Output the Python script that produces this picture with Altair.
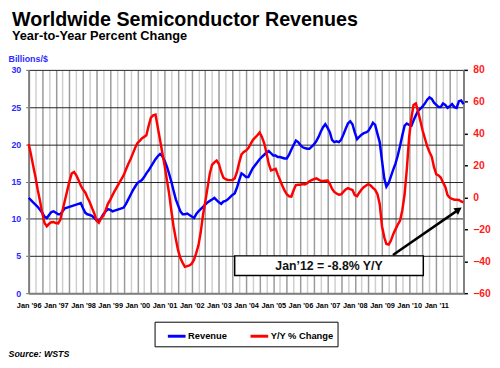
import altair as alt
import pandas as pd

# Monthly values, Jan 1996 .. Jan 2012
revenue = [
    12.8, 12.5, 12.2, 11.9, 11.6, 11.2, 10.8, 10.3, 10.1, 10.5, 10.9, 11.0,
    10.8, 10.6, 10.6, 11.0, 11.4, 11.5, 11.6, 11.7, 11.8, 11.9, 12.0, 12.1,
    11.4, 10.8, 10.6, 10.5, 10.4, 10.1, 9.8, 9.7, 10.1, 10.6, 11.0, 11.3,
    11.2, 11.0, 11.1, 11.2, 11.3, 11.4, 11.5, 12.0, 12.6, 13.2, 13.8, 14.3,
    14.8, 15.0, 15.2, 15.6, 16.1, 16.5, 17.0, 17.5, 18.0, 18.4, 18.7, 18.4,
    17.8, 17.0, 16.1, 15.0, 13.8, 12.6, 11.8, 11.0, 10.6, 10.6, 10.7, 10.5,
    10.3, 10.1, 10.6, 11.0, 11.3, 11.6, 11.9, 12.2, 12.4, 12.6, 12.8, 12.5,
    12.2, 12.0, 12.3, 12.4, 12.6, 12.9, 13.2, 13.4, 14.2, 15.2, 16.1, 15.9,
    15.6, 15.6, 16.2, 16.8, 17.2, 17.6, 18.0, 18.3, 18.6, 18.9, 19.1, 18.8,
    18.5, 18.5, 18.3, 18.3, 18.2, 18.1, 18.1, 18.6, 19.3, 19.9, 20.5, 20.3,
    19.9, 19.6, 19.5, 19.4, 19.4, 19.7, 20.0, 20.4, 21.0, 21.7, 22.3, 22.7,
    22.2, 21.6, 20.6, 20.3, 20.4, 20.3, 20.6, 21.3, 22.1, 22.8, 23.1, 22.7,
    21.6, 20.7, 21.0, 21.3, 21.5, 21.6, 21.8, 22.3, 22.9, 22.6, 21.4, 20.3,
    17.8, 15.4, 14.3, 14.8, 15.7, 16.6, 17.4, 18.5, 19.8, 21.2, 22.5, 22.8,
    22.6, 22.5, 23.2, 23.9, 24.5, 24.8, 25.1, 25.5, 26.0, 26.3, 26.1, 25.6,
    25.3, 25.0, 25.0, 25.5, 25.3, 24.9, 25.1, 25.4, 25.0, 24.9, 25.8, 25.9,
    25.4,
]
yoy = [
    33.5, 27, 20, 13, 5, -2, -9.6, -16, -18, -16.5, -15.5, -15.4,
    -16.0, -16.2, -14, -8, -2, 4, 10, 15, 16, 14, 11, 7.5,
    5, 3, 0, -3, -6.5, -10, -14.5, -15.8, -13, -11.5, -8, -4,
    -1.5, 1.5, 4, 6.5, 9, 11.5, 14, 17.5, 21, 24, 27.5, 31,
    34, 35.5, 37, 38, 39, 45, 50, 51.5, 52, 44, 36, 28,
    20, 11, 3, -8, -18, -26, -33, -38, -41, -43.5, -43, -42.6,
    -41.5, -39, -35, -30, -22, -11, -3, 6, 15, 20.5, 22, 23.2,
    21, 16, 12.5, 11.5, 11, 10.9, 11, 12, 16, 22, 27, 28.5,
    29.4, 31, 33.5, 36, 37.6, 39, 40.7, 38, 34, 28, 21, 17,
    17.5, 18, 14.5, 11, 7.5, 4.5, 2, 0.8, 0.6, 4.5, 7.8, 8,
    8, 8.4, 8.2, 9, 10.2, 10.9, 11.5, 12, 11.2, 10.5, 10.4, 10.5,
    10.6, 8.5, 5.5, 3.5, 2.5, 1.8, 2, 3.5, 5, 5.8, 5.2, 4.7,
    1.5, 0.8, 3, 5, 6.5, 7.5, 8.3, 7.5, 6, 4.8, 2, -4,
    -18, -25, -29.2, -29.5, -27, -23, -20, -17, -14.5, -8, 2, 18,
    38, 50, 58, 59, 54, 48, 42, 37, 32, 28.5, 25.5, 19,
    14.5, 13.8, 12.5, 9.5, 6.8, 1.5, -0.2, -0.8, -1.4, -1.4, -1.6, -2.5,
    -3,
]
series_names = ["Revenue", "Y/Y % Change"]
series_colors = ["#0000ff", "#ff0000"]

# annotation (in data coordinates of the right axis)
note_label = ["Jan\u201912 = -8.8% Y/Y"]
note_box_start = ["2003-08-01"]
note_box_end = ["2010-07-10"]
note_box_top = [-36.6]
note_box_bottom = [-48.9]
note_center = ["2007-01-20"]
note_center_val = [-43.0]
arrow_start = ["2009-05-28"]
arrow_start_val = [-36.0]
arrow_end = ["2011-10-28"]
arrow_end_val = [-7.6]

dates = pd.date_range("1996-01-01", periods=len(revenue), freq="MS").strftime("%Y-%m-%d").tolist()
df = pd.DataFrame({"date": dates, "Revenue": revenue, "YoY": yoy})
box_df = pd.DataFrame({"x0": note_box_start, "x1": note_box_end, "y0": note_box_top, "y1": note_box_bottom})
text_df = pd.DataFrame({"xc": note_center, "yc": note_center_val, "label": note_label})
arrow_df = pd.DataFrame({"xa": arrow_start, "ya": arrow_start_val, "xb": arrow_end, "yb": arrow_end_val})

FONT = "Liberation Sans"
BLUE_TXT = "#2b2bff"
RED_TXT = "#ff1a1a"

quarter_ticks = [alt.DateTime(year=y, month=m, date=1, utc=True)
                 for y in range(1996, 2012) for m in (1, 4, 7, 10)]
quarter_ticks.append(alt.DateTime(year=2012, month=1, date=1, utc=True))

x_scale = alt.Scale(type="utc", domain=[alt.DateTime(year=1996, month=1, date=1, utc=True),
                                         alt.DateTime(year=2012, month=1, date=1, utc=True)])
x_axis = alt.Axis(
    values=quarter_ticks,
    labelExpr=('utcmonth(datum.value) == 0 && utcyear(datum.value) < 2012 ? '
               'utcFormat(datum.value, "%b \'%y") : ""'),
    labelOverlap=False, labelFlush=False,
    labelFontSize=7.5, labelFontWeight="bold", labelColor="#000", labelPadding=9,
    ticks=False, grid=True,
    gridColor={"condition": {"test": "utcmonth(datum.value) % 6 == 0", "value": "#9a9a9a"}, "value": "#cfcfcf"},
    gridWidth=1.5, domainColor="#808080", domainWidth=2,
    title="Source: WSTS", titleX=-21, titleY=64.5, titleAlign="left", titleBaseline="alphabetic",
    titleFontSize=9, titleFontStyle="italic", titleFontWeight="bold", titleColor="#000",
)

rev_scale = alt.Scale(domain=[0, 30], nice=False, zero=False)
rev_axis = alt.Axis(
    orient="left", values=[0, 5, 10, 15, 20, 25, 30],
    title="Billions/$", titleAngle=0, titleX=-21, titleY=-9, titleAlign="left",
    titleBaseline="alphabetic", titleColor=BLUE_TXT, titleFontSize=9, titleFontWeight="bold",
    labelColor=BLUE_TXT, labelFontWeight="bold", labelFontSize=9, labelPadding=5,
    ticks=True, tickSize=3, tickColor="#666",
    grid=True, gridColor="#222", gridWidth=1,
    domainColor="#808080", domainWidth=2,
)

yoy_scale = alt.Scale(domain=[-60, 80], nice=False, zero=False)
yoy_axis = alt.Axis(
    orient="right", values=list(range(-60, 81, 20)), grid=False, title=None,
    labelColor=RED_TXT, labelFontWeight="bold", labelFontSize=10.5, labelPadding=5.5,
    ticks=True, tickSize=4, tickColor="#000", tickWidth=1.5,
    domainColor="#808080", domainWidth=2,
)

color_scale = alt.Scale(domain=series_names, range=series_colors)
legend = alt.Legend(
    orient="none", legendX=128, legendY=256, direction="horizontal", title=None,
    symbolType="stroke", symbolSize=324, symbolStrokeWidth=3,
    labelFontSize=9.5, labelFontWeight="bold", labelColor="#000", labelFont=FONT,
    strokeColor="#000", fillColor="#fff", padding=4, columnPadding=14, symbolOffset=8, labelOffset=1,
)
COLOR = alt.Color("series:N", scale=color_scale, legend=legend)

X = alt.X("date:T", scale=x_scale, axis=x_axis)

rev_line = alt.Chart(df).transform_calculate(series="'%s'" % series_names[0]).mark_line(strokeWidth=2.5).encode(
    x=X,
    y=alt.Y("Revenue:Q", scale=rev_scale, axis=rev_axis),
    color=COLOR,
)

yoy_line = alt.Chart(df).transform_calculate(series="'%s'" % series_names[1]).mark_line(strokeWidth=2.5).encode(
    x=X,
    y=alt.Y("YoY:Q", scale=yoy_scale, axis=yoy_axis),
    color=COLOR,
)

box = alt.Chart(box_df).mark_rect(fill="#ffffff", stroke="#000000", strokeWidth=1.5).encode(
    x=alt.X("x0:T", scale=x_scale, axis=x_axis),
    x2="x1:T",
    y=alt.Y("y0:Q", scale=yoy_scale, axis=yoy_axis),
    y2="y1:Q",
)

note = alt.Chart(text_df).mark_text(font=FONT, fontSize=12.5, fontWeight="bold", color="#111",
                                    align="center", baseline="middle").encode(
    x=alt.X("xc:T", scale=x_scale, axis=x_axis),
    y=alt.Y("yc:Q", scale=yoy_scale, axis=yoy_axis),
    text="label:N",
)

arrow = alt.Chart(arrow_df).mark_rule(color="#000", strokeWidth=2.5).encode(
    x=alt.X("xa:T", scale=x_scale, axis=x_axis),
    x2="xb:T",
    y=alt.Y("ya:Q", scale=yoy_scale, axis=yoy_axis),
    y2="yb:Q",
)

head = alt.Chart(arrow_df).mark_point(shape="triangle-up", filled=True, color="#000",
                                      size=70, angle=56, opacity=1).encode(
    x=alt.X("xb:T", scale=x_scale, axis=x_axis),
    y=alt.Y("yb:Q", scale=yoy_scale, axis=yoy_axis),
)

yoy_layer = alt.layer(yoy_line, box, note, arrow, head)

chart = alt.layer(rev_line, yoy_layer).resolve_scale(y="independent").properties(
    width=442, height=227,
    autosize=alt.AutoSizeParams(type="none"),
    padding={"left": 21, "top": 60, "right": 29, "bottom": 65},
    title=alt.TitleParams(
        text="Worldwide Semiconductor Revenues",
        subtitle="Year-to-Year Percent Change",
        anchor="start", frame="group", dx=-17, font=FONT, fontSize=20, fontWeight="bold", color="#000",
        subtitleFont=FONT, subtitleFontSize=13, subtitleFontWeight="bold", subtitleColor="#000",
        subtitlePadding=1, offset=11,
    ),
).configure(font=FONT, background="#ffffff").configure_view(stroke=None)

chart.save("out.html", embed_options={"renderer": "svg", "actions": False})
